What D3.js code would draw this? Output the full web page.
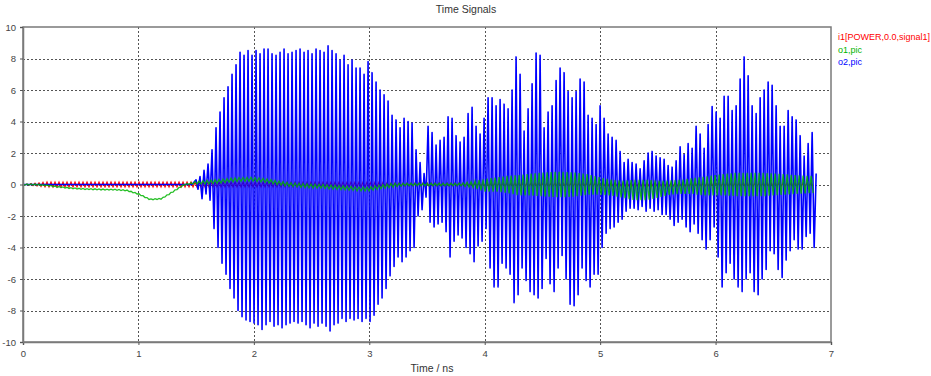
<!DOCTYPE html>
<html>
<head>
<meta charset="utf-8">
<script src="https://cdn.jsdelivr.net/npm/d3@7"></script>
<style>
  body { margin: 0; background: #fff; }
  text { font-family: "Liberation Sans", Arial, sans-serif; }
</style>
</head>
<body>
<svg id="fig" width="931" height="376"></svg>
<script>
// axis ticks
const xTicks = [0, 1, 2, 3, 4, 5, 6, 7];
const yTicks = [-10, -8, -6, -4, -2, 0, 2, 4, 6, 8, 10];

// legend
const seriesNames = ["i1[POWER,0.0,signal1]", "o1,pic", "o2,pic"];
const seriesColors = ["#ff0000", "#00b400", "#0000ff"];

// o2: upper and lower peak of every cycle
const o2Start = 1.499;      // ns, first cycle
const halfPeriod = 0.01733; // ns
const o2Max = [
  0.3, 0.5, 0.9, 1.3, 2.2, 3.6, 4.6, 5.5, 6.2, 7.0,
  7.6, 8.4, 8.2, 8.5, 8.2, 8.5, 8.3, 8.6, 8.6, 8.3,
  8.2, 8.4, 8.6, 8.3, 8.4, 8.5, 8.6, 8.4, 8.5, 8.3,
  8.6, 8.5, 8.4, 8.8, 8.5, 8.3, 7.9, 8.2, 7.6, 7.9,
  7.4, 7.4, 7.0, 7.8, 7.1, 6.5, 6.0, 5.7, 5.3, 4.4,
  4.1, 3.6, 4.2, 4.0, 3.9, 2.2, 1.4, 0.7, 3.7, 3.3,
  2.5, 2.8, 3.0, 4.3, 4.2, 3.1, 2.7, 3.0, 4.5, 4.9,
  3.7, 3.2, 4.2, 5.5, 5.5, 5.0, 5.4, 5.1, 4.8, 6.0,
  8.1, 7.0, 3.4, 4.8, 6.4, 8.35, 8.2, 3.6, 4.6, 5.0,
  6.6, 7.4, 7.1, 5.9, 5.5, 5.9, 6.7, 6.5, 4.4, 4.2,
  3.8, 5.0, 4.2, 3.2, 3.0, 2.8, 2.1, 1.4, 1.6, 1.4,
  1.3, 1.0, 1.5, 2.0, 2.1, 1.8, 1.7, 1.6, 1.2, 1.1,
  1.5, 2.4, 1.9, 2.6, 2.3, 3.7, 3.2, 2.3, 3.8, 4.95,
  4.6, 4.2, 5.6, 5.6, 4.7, 5.0, 6.7, 8.1, 6.9, 5.0,
  4.5, 5.5, 6.0, 6.5, 6.3, 5.0, 3.7, 3.7, 4.7, 4.3,
  4.1, 3.1, 1.8, 2.6, 3.3
];
const o2Min = [
  -0.3, -0.9, -0.6, -1.0, -2.8, -4.0, -5.0, -5.7, -6.6, -7.2,
  -8.0, -8.4, -8.6, -8.7, -8.8, -8.9, -9.2, -8.9, -8.7, -9.0,
  -8.9, -9.1, -8.9, -8.8, -8.7, -8.8, -8.7, -8.9, -9.1, -8.8,
  -9.0, -8.8, -9.0, -9.3, -8.9, -8.8, -8.5, -8.7, -8.5, -8.6,
  -8.5, -8.7, -8.5, -8.7, -8.3, -7.6, -7.2, -6.6, -5.8, -5.2,
  -4.6, -4.9, -4.6, -4.2, -4.0, -2.0, -1.6, -0.8, -2.4, -2.7,
  -2.5, -2.4, -3.0, -4.6, -3.6, -3.2, -3.4, -4.0, -4.4, -4.9,
  -3.9, -3.6, -2.8, -5.3, -6.5, -6.5, -5.0, -5.3, -5.7, -7.5,
  -7.0, -5.3, -6.1, -6.8, -7.0, -7.2, -6.6, -4.7, -6.3, -6.8,
  -5.3, -4.5, -6.0, -7.6, -7.7, -7.0, -5.3, -6.1, -6.5, -5.7,
  -5.7, -4.0, -3.1, -2.8, -2.7, -2.4, -2.2, -1.7, -1.5, -1.5,
  -1.6, -1.4, -1.7, -1.5, -1.7, -1.6, -1.9, -1.9, -2.2, -2.6,
  -2.4, -2.2, -2.7, -3.0, -2.5, -3.1, -3.5, -4.1, -3.5, -2.7,
  -4.6, -6.5, -5.6, -5.0, -6.0, -6.5, -6.8, -6.0, -5.6, -6.8,
  -7.0, -6.0, -5.4, -4.2, -4.4, -5.4, -5.9, -4.8, -4.2, -3.5,
  -4.1, -4.1, -3.3, -3.1, -4.0
];
const o2End = 0.7; // value where the trace stops

// i1 and o1: values every 0.1 ns (0.0 .. 6.8)
const coarseTimes = d3.range(69).map(k => k / 10);
const i1Amp = [
  0, 0.08,
  0.15, 0.15, 0.15, 0.15, 0.15, 0.15, 0.15, 0.15, 0.15, 0.15,
  0.15, 0.15, 0.15, 0.15, 0.15, 0.15, 0.15, 0.15, 0.15, 0.15,
  0.15, 0.15, 0.15, 0.15, 0.15, 0.15, 0.15, 0.15, 0.15, 0.15,
  0.1, 0.1, 0.1, 0.1, 0.1, 0.1, 0.1, 0.1, 0.1, 0.1,
  0.1, 0.1, 0.1, 0.1, 0.1, 0.1, 0.1, 0.1, 0.1, 0.1,
  0.1, 0.1, 0.1, 0.1, 0.1, 0.1, 0.1, 0.1, 0.1, 0.1,
  0.1, 0.1, 0.1, 0.1, 0.1, 0.1, 0.1
];
const o1Mid = [
  0, 0, -0.05, -0.15, -0.22, -0.28, -0.3, -0.32, -0.33, -0.38,
  -0.6, -0.95, -0.9, -0.45, 0.0, 0.12, 0.15, 0.2, 0.28, 0.32,
  0.33, 0.25, 0.12, 0.0, -0.05, -0.1, -0.12, -0.18, -0.22, -0.28,
  -0.28, -0.15, -0.05, 0, 0, 0, 0, 0, 0, 0,
  -0.05, 0, 0, -0.05, 0, 0, 0, 0, 0, 0,
  -0.1, -0.2, -0.3, -0.35, -0.35, -0.3, -0.2, -0.15, -0.1, -0.1,
  -0.05, 0, 0, 0, 0, 0, 0, 0, 0
];
const o1Amp = [
  0.03, 0.03, 0.03, 0.03, 0.03, 0.03, 0.03, 0.03, 0.03, 0.03,
  0.03, 0.03, 0.03, 0.03, 0.03, 0.08, 0.12, 0.12, 0.12, 0.12,
  0.12, 0.12, 0.12, 0.12, 0.12, 0.12, 0.12, 0.12, 0.12, 0.12,
  0.12, 0.12, 0.12, 0.08, 0.08, 0.08, 0.08, 0.08, 0.08, 0.2,
  0.4, 0.45, 0.55, 0.65, 0.7, 0.75, 0.8, 0.8, 0.75, 0.65,
  0.55, 0.5, 0.55, 0.65, 0.65, 0.55, 0.45, 0.45, 0.5, 0.6,
  0.65, 0.7, 0.75, 0.75, 0.75, 0.7, 0.65, 0.6, 0.55
];

const width = 931, height = 376;
const margin = { left: 23, right: 100, top: 27, bottom: 34 };

const svg = d3.select("#fig");
svg.append("rect").attr("width", width).attr("height", height).attr("fill", "#fff");

const x = d3.scaleLinear().domain([0, 7]).range([margin.left, width - margin.right]);
const y = d3.scaleLinear().domain([-10, 10]).range([height - margin.bottom, margin.top]);

// grid
const grid = svg.append("g").attr("stroke", "#555").attr("stroke-width", 1).attr("stroke-dasharray", "2,2");
grid.selectAll("line.gx").data(xTicks.slice(1, -1)).enter().append("line")
    .attr("x1", d => Math.round(x(d)) + 0.5).attr("x2", d => Math.round(x(d)) + 0.5)
    .attr("y1", y(10)).attr("y2", y(-10));
grid.selectAll("line.gy").data(yTicks.slice(1, -1)).enter().append("line")
    .attr("x1", x(0)).attr("x2", x(7))
    .attr("y1", d => Math.round(y(d)) + 0.5).attr("y2", d => Math.round(y(d)) + 0.5);

// series samples
const midScale = d3.scaleLinear().domain(coarseTimes).range(o1Mid).clamp(true);
const o1AmpScale = d3.scaleLinear().domain(coarseTimes).range(o1Amp).clamp(true);
const i1AmpScale = d3.scaleLinear().domain(coarseTimes).range(i1Amp).clamp(true);

const steps = d3.range(0, Math.floor(6.85 / halfPeriod) + 1);
const i1Data = steps.map(j => {
  const t = j * halfPeriod;
  return [t, (j % 2 ? -1 : 1) * i1AmpScale(t)];
});
const o1Data = steps.map(j => {
  const t = j * halfPeriod;
  return [t, midScale(t) + (j % 2 ? -1 : 1) * o1AmpScale(t)];
});
const o2Data = [[0, 0], [o2Start - halfPeriod * 2, 0]];
o2Max.forEach((v, i) => {
  o2Data.push([o2Start + 2 * i * halfPeriod, v]);
  o2Data.push([o2Start + (2 * i + 1) * halfPeriod, o2Min[i]]);
});
o2Data.push([o2Start + 2 * o2Max.length * halfPeriod, o2End]);

svg.append("clipPath").attr("id", "plotClip").append("rect")
    .attr("x", x(0)).attr("y", y(10)).attr("width", x(7) - x(0)).attr("height", y(-10) - y(10));

const line = d3.line().x(d => x(d[0])).y(d => y(d[1]));
const plot = svg.append("g").attr("clip-path", "url(#plotClip)");

plot.append("path").datum(i1Data).attr("d", line)
    .attr("fill", "none").attr("stroke", seriesColors[0]).attr("stroke-width", 1.2);
plot.append("path").datum(o2Data).attr("d", line)
    .attr("fill", "none").attr("stroke", seriesColors[2]).attr("stroke-width", 1.6)
    .attr("stroke-linejoin", "round");
plot.append("path").datum(o1Data).attr("d", line)
    .attr("fill", "none").attr("stroke", seriesColors[1]).attr("stroke-width", 1.3)
    .attr("stroke-opacity", 0.85);

// frame
svg.append("rect").attr("x", x(0)).attr("y", y(10))
    .attr("width", x(7) - x(0)).attr("height", y(-10) - y(10))
    .attr("fill", "none").attr("stroke", "#7a7a7a").attr("stroke-width", 1.5);

// axes
const xAxis = svg.append("g").attr("transform", `translate(0,${y(-10)})`)
    .call(d3.axisBottom(x).tickValues(xTicks).tickSize(3).tickPadding(5).tickFormat(d => String(d)));
const yAxis = svg.append("g").attr("transform", `translate(${x(0)},0)`)
    .call(d3.axisLeft(y).tickValues(yTicks).tickSize(3).tickPadding(4).tickFormat(d => String(d)));
[xAxis, yAxis].forEach(a => {
  a.select(".domain").attr("stroke", "#7a7a7a").attr("stroke-width", 1.5);
  a.selectAll(".tick line").attr("stroke", "#555");
  a.selectAll(".tick text").attr("fill", "#444").attr("font-size", 9.5)
      .attr("font-family", "\"Liberation Sans\", Arial, sans-serif");
});

// title and axis label
svg.append("text").attr("x", 466).attr("y", 13).attr("text-anchor", "middle")
    .attr("font-size", 10.5).attr("fill", "#333").text("Time Signals");
svg.append("text").attr("x", 432).attr("y", 372).attr("text-anchor", "middle")
    .attr("font-size", 10.5).attr("fill", "#333").text("Time / ns");

// legend
svg.append("g").selectAll("text").data(seriesNames).enter().append("text")
    .attr("x", 838).attr("y", (d, i) => 40 + i * 12.5)
    .attr("font-size", 9).attr("fill", (d, i) => seriesColors[i])
    .text(d => d);
</script>
</body>
</html>
